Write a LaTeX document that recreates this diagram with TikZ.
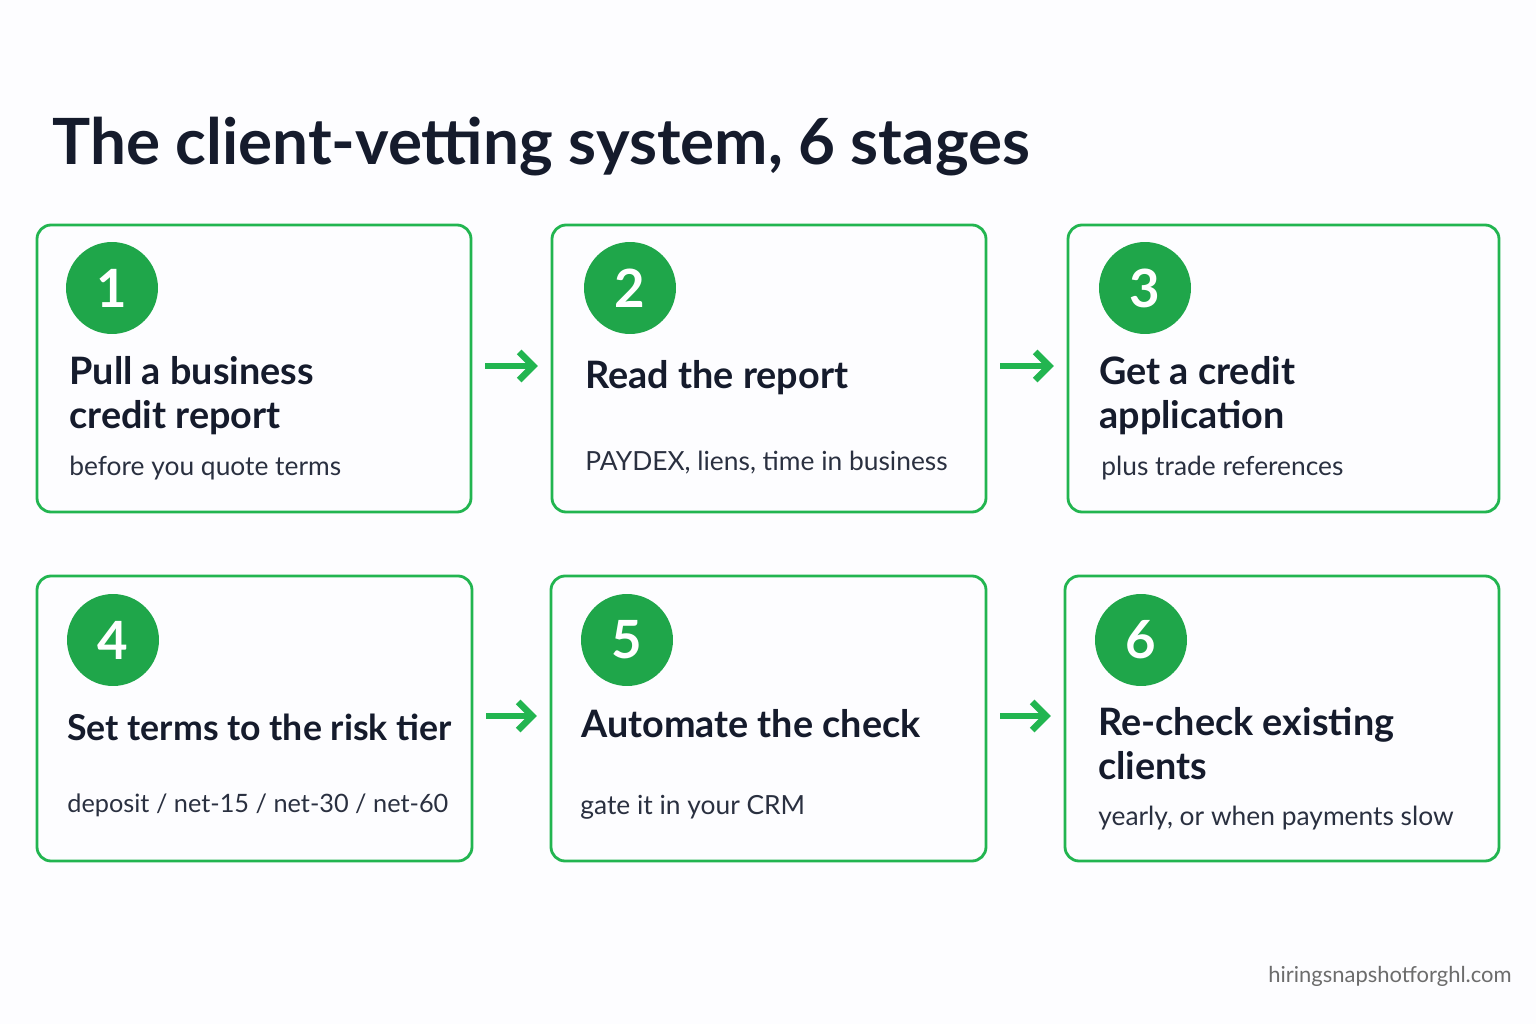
\documentclass[tikz,border=0pt]{standalone}
\usepackage{fontspec}
\setmainfont{Lato}
\usetikzlibrary{arrows.meta,positioning}
\definecolor{ink}{HTML}{151B2C}
\definecolor{edge}{HTML}{22B550}
\definecolor{disc}{HTML}{1FA64A}
\definecolor{sub}{HTML}{2A3040}
\tikzset{
  stage/.style={draw=edge,line width=1.6pt,rounded corners=8pt,minimum width=#1},
  num/.style={circle,fill=disc,text=white,minimum size=1.84cm,inner sep=0pt,font=\fontsize{30}{30}\selectfont\bfseries},
  head/.style={anchor=base west,align=left,inner sep=0pt,text=ink,font=\fontsize{21.5}{24.5}\selectfont\bfseries},
  note/.style={anchor=base west,inner sep=0pt,text=sub,font=\fontsize{15}{18}\selectfont},
  flow/.style={-{Straight Barb[length=8pt,width=16pt]},draw=edge,line width=3.8pt,shorten <=8pt,shorten >=8pt}
}
\begin{document}
\begin{tikzpicture}[x=0.02cm,y=-0.02cm]
  \fill[white!97!blue!30] (0,0) rectangle (1536,1024);
  \useasboundingbox (0,0) rectangle (1536,1024);
  \node[anchor=base west,inner sep=0pt,text=ink,font=\fontsize{36.3}{37}\selectfont\bfseries] (title) at (52,165) {The client-vetting system, 6 stages};
  % first row
  \draw[stage] (37,225) rectangle (471,512);
  \draw[stage] (552,225) rectangle (986,512);
  \draw[stage] (1068,225) rectangle (1499,512);
  \coordinate (b1) at (471,366);
  \coordinate (b2w) at (552,366);
  \coordinate (b2) at (986,366);
  \coordinate (b3w) at (1068,366);
  \node[num] (n1) at (112,288) {1};
  \node[num] (n2) at (630,288) {2};
  \node[num] (n3) at (1145,288) {3};
  \node[head] (h1) at (69,428) {Pull a business\\credit report};
  \node[note] (s1) at (69,475) {before you quote terms};
  \node[head] (h2) at (585,388) {Read the report};
  \node[note] (s2) at (585,470) {PAYDEX, liens, time in business};
  \node[head] (h3) at (1099,428) {Get a credit\\application};
  \node[note] (s3) at (1101,475) {plus trade references};
  \draw[flow] (b1) -- (b2w);
  \draw[flow] (b2) -- (b3w);
  % second row
  \draw[stage] (37,576) rectangle (472,861);
  \draw[stage] (551,576) rectangle (986,861);
  \draw[stage] (1065,576) rectangle (1499,861);
  \coordinate (b4) at (472,716);
  \coordinate (b5w) at (551,716);
  \coordinate (b5) at (986,716);
  \coordinate (b6w) at (1065,716);
  \node[num] (n4) at (113,640) {4};
  \node[num] (n5) at (627,640) {5};
  \node[num] (n6) at (1141,640) {6};
  \node[head,font=\fontsize{20.3}{24.5}\selectfont\bfseries] (h4) at (67,740) {Set terms to the risk tier};
  \node[note,font=\fontsize{14.4}{18}\selectfont] (s4) at (67,812) {deposit / net-15 / net-30 / net-60};
  \node[head] (h5) at (581,737) {Automate the check};
  \node[note] (s5) at (580,814) {gate it in your CRM};
  \node[head] (h6) at (1098,779) {Re-check existing\\clients};
  \node[note] (s6) at (1098,825) {yearly, or when payments slow};
  \draw[flow] (b4) -- (b5w);
  \draw[flow] (b5) -- (b6w);
  \node[anchor=base east,inner sep=0pt,text=gray!85!black,font=\fontsize{12.5}{14}\selectfont] (site) at (1512,982) {hiringsnapshotforghl.com};
\end{tikzpicture}
\end{document}
